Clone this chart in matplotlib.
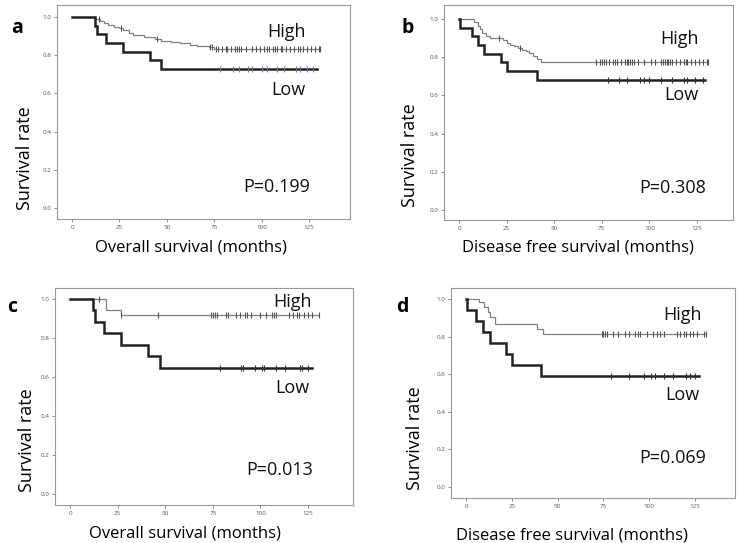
import numpy as np
import matplotlib
matplotlib.use("Agg")
import matplotlib.pyplot as plt

plt.rcParams['font.family'] = ['Open Sans', 'DejaVu Sans']

W, H = 742, 543

# ---- panel a : overall survival ----
a_high_t = [0, 12, 15, 17, 19, 22, 25, 27, 30, 32, 38, 44, 47, 52, 57, 62, 66, 72, 75]
a_high_s = [1.0, 0.99, 0.98, 0.97, 0.96, 0.95, 0.94, 0.93, 0.915, 0.905, 0.895, 0.885, 0.875, 0.87, 0.862, 0.856, 0.85, 0.845, 0.835]
a_high_end = 131
a_high_cens = [14, 26, 45, 73, 74, 76, 77, 79, 81, 82, 84, 86, 87, 88, 89, 92, 95, 97, 99,
               101, 103, 104, 106, 107, 108, 110, 111, 113, 115, 117, 119, 120, 122, 124,
               126, 128, 130, 131]
a_low_t = [0, 12, 13, 18, 27, 41, 47]
a_low_s = [1.0, 0.955, 0.909, 0.864, 0.818, 0.773, 0.727]
a_low_end = 129
a_low_cens = [78, 85, 88, 93, 95, 100, 103, 108, 112, 118, 120, 124, 127]

# ---- panel b : disease free survival ----
b_high_t = [0, 8, 10, 11, 12, 14, 16, 23, 25, 27, 29, 31, 33, 35, 37, 39, 41, 43]
b_high_s = [1.0, 0.985, 0.965, 0.945, 0.926, 0.91, 0.90, 0.89, 0.875, 0.866, 0.857, 0.847, 0.84, 0.83, 0.82, 0.805, 0.79, 0.775]
b_high_end = 131
b_high_cens = [21, 32, 72, 74, 75, 76, 77, 79, 81, 82, 83, 85, 87, 88, 89, 90, 91, 92, 94,
               97, 101, 103, 106, 107, 108, 109, 110, 111, 112, 114, 116, 118, 119, 120,
               122, 124, 126, 128, 130, 131]
b_low_t = [0, 0.5, 7, 10, 13, 22, 25, 41]
b_low_s = [1.0, 0.955, 0.909, 0.864, 0.818, 0.773, 0.727, 0.682]
b_low_end = 129
b_low_cens = [78, 84, 88, 95, 97, 100, 106, 112, 118, 120, 124, 128]

# ---- panel c : overall survival ----
c_high_t = [0, 19, 27]
c_high_s = [1.0, 0.944, 0.917]
c_high_end = 131
c_high_cens = [15, 27, 46, 74, 75, 76, 77, 82, 83, 87, 89, 92, 93, 95, 100, 103, 106, 107,
               108, 115, 117, 119, 120, 123, 125, 127, 131]
c_low_t = [0, 12, 13, 18, 27, 41, 47]
c_low_s = [1.0, 0.941, 0.882, 0.824, 0.765, 0.706, 0.647]
c_low_end = 127
c_low_cens = [79, 90, 91, 97, 101, 102, 108, 113, 121, 122, 125]

# ---- panel d : disease free survival ----
d_high_t = [0, 7, 10, 12, 13, 16, 39, 42]
d_high_s = [1.0, 0.984, 0.957, 0.93, 0.904, 0.869, 0.842, 0.815]
d_high_end = 131
d_high_cens = [74, 75, 76, 77, 80, 83, 87, 89, 92, 94, 95, 99, 102, 104, 106, 108, 115,
               117, 119, 120, 122, 124, 126, 130, 131]
d_low_t = [0, 0.3, 5.5, 9.5, 13, 22, 25, 41]
d_low_s = [1.0, 0.941, 0.882, 0.824, 0.765, 0.706, 0.647, 0.588]
d_low_end = 127
d_low_cens = [79, 89, 97, 101, 103, 108, 113, 120, 122, 125]

panels = [
    dict(letter="a", frame=(57, 5, 350, 219), xlim=(-7.9, 146.6), ylim=(-0.058, 1.063),
         high=(a_high_t, a_high_s, a_high_end, a_high_cens),
         low=(a_low_t, a_low_s, a_low_end, a_low_cens), low_cens_color="#6a78b8",
         xlabel="Overall survival (months)", p="P=0.199",
         high_txt=(113, 0.92), low_txt=(114, 0.62), p_txt=(108, 0.11),
         letter_px=(17, 28), xlab_px=(191, 248), ylab_px=(25, 158)),
    dict(letter="b", frame=(444, 5, 733, 220), xlim=(-7.9, 143.9), ylim=(-0.052, 1.073),
         high=(b_high_t, b_high_s, b_high_end, b_high_cens),
         low=(b_low_t, b_low_s, b_low_end, b_low_cens), low_cens_color="#333333",
         xlabel="Disease free survival (months)", p="P=0.308",
         high_txt=(116, 0.895), low_txt=(117, 0.60), p_txt=(112, 0.115),
         letter_px=(408, 28), xlab_px=(578, 248), ylab_px=(410, 155)),
    dict(letter="c", frame=(55, 288, 353, 505), xlim=(-7.9, 148.6), ylim=(-0.056, 1.056),
         high=(c_high_t, c_high_s, c_high_end, c_high_cens),
         low=(c_low_t, c_low_s, c_low_end, c_low_cens), low_cens_color="#333333",
         xlabel="Overall survival (months)", p="P=0.013",
         high_txt=(116.6, 0.985), low_txt=(116.6, 0.544), p_txt=(110, 0.123),
         letter_px=(12, 307), xlab_px=(185, 533), ylab_px=(27, 440)),
    dict(letter="d", frame=(451, 288, 735, 498), xlim=(-8.2, 146.8), ylim=(-0.059, 1.059),
         high=(d_high_t, d_high_s, d_high_end, d_high_cens),
         low=(d_low_t, d_low_s, d_low_end, d_low_cens), low_cens_color="#333333",
         xlabel="Disease free survival (months)", p="P=0.069",
         high_txt=(118.4, 0.915), low_txt=(118, 0.49), p_txt=(113, 0.154),
         letter_px=(402, 307), xlab_px=(572, 535), ylab_px=(415, 438)),
]


def km(ax, t, s, end, cens, color, lw, cens_color):
    t = np.asarray(t, float)
    s = np.asarray(s, float)
    x = np.append(t, end)
    y = np.append(s, s[-1])
    ax.step(x, y, where="post", color=color, lw=lw, solid_joinstyle="miter", zorder=3)
    c = np.asarray(cens, float)
    idx = np.searchsorted(t, c, side="right") - 1
    ax.plot(c, s[idx], ls="none", marker="|", ms=4, mew=0.8, color=cens_color, zorder=4)


fig = plt.figure(figsize=(W / 100, H / 100), dpi=100)

for p in panels:
    l, t, r, b = p["frame"]
    ax = fig.add_axes([l / W, 1 - b / H, (r - l) / W, (b - t) / H])
    ax.set_xlim(*p["xlim"])
    ax.set_ylim(*p["ylim"])
    km(ax, *p["high"], color="#808080", lw=0.9, cens_color="#555555")
    km(ax, *p["low"], color="#222222", lw=1.8, cens_color=p["low_cens_color"])
    ax.set_xticks([0, 25, 50, 75, 100, 125])
    ax.set_yticks([0.0, 0.2, 0.4, 0.6, 0.8, 1.0])
    ax.set_yticklabels(["0.0", "0.2", "0.4", "0.6", "0.8", "1.0"])
    ax.tick_params(labelsize=4.5, labelcolor="#555555", length=2.5, width=0.6,
                   color="#777777", pad=1.5)
    for sp in ax.spines.values():
        sp.set_color("#999999")
        sp.set_linewidth(0.8)
    ax.text(*p["high_txt"], "High", fontsize=13, ha="center", va="center", color="#111111")
    ax.text(*p["low_txt"], "Low", fontsize=13, ha="center", va="center", color="#111111")
    ax.text(*p["p_txt"], p["p"], fontsize=13, ha="center", va="center", color="#111111")

    lx, ly = p["letter_px"]
    fig.text(lx / W, 1 - ly / H, p["letter"], fontsize=14, fontweight="bold",
             ha="center", va="center")
    xx, xy = p["xlab_px"]
    fig.text(xx / W, 1 - xy / H, p["xlabel"], fontsize=12, ha="center", va="center")
    yx, yy = p["ylab_px"]
    fig.text(yx / W, 1 - yy / H, "Survival rate", fontsize=13, rotation=90,
             ha="center", va="center")

fig.savefig("out.png", dpi=100, facecolor="white")
